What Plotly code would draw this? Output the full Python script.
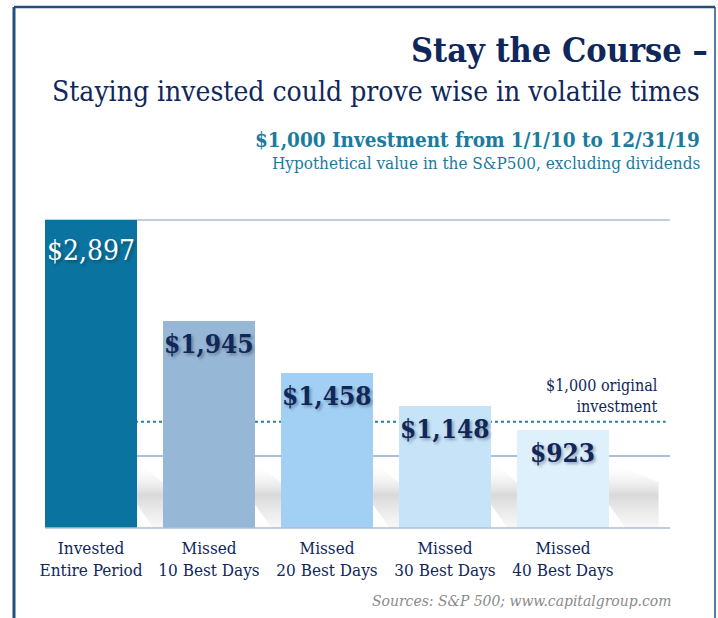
import plotly.graph_objects as go

# ---------------- data ----------------
categories = ["Invested<br>Entire Period", "Missed<br>10 Best Days", "Missed<br>20 Best Days",
              "Missed<br>30 Best Days", "Missed<br>40 Best Days"]
values = [2897, 1945, 1458, 1148, 923]
value_labels = ["$2,897", "$1,945", "$1,458", "$1,148", "$923"]
original_investment = 1000
original_label = "$1,000 original<br>investment"

title_text = "Stay the Course –"
subtitle_text = "Staying invested could prove wise in volatile times"
heading_text = "$1,000 Investment from 1/1/10 to 12/31/19"
note_text = "Hypothetical value in the S&P500, excluding dividends"
source_text = "Sources: S&P 500; www.capitalgroup.com"

# ---------------- style ----------------
bar_colors = ["#0a73a0", "#96b7d6", "#a2d0f5", "#c6e3f7", "#ddf0fc"]
label_colors = ["#ffffff", "#10275c", "#10275c", "#10275c", "#10275c"]
label_weights = ["normal", "bold", "bold", "bold", "bold"]
label_sizes = [28, 26, 26, 26, 26]
label_shift = [-12, -6, -6, -6, -6]
NAVY = "#10275c"
TEAL = "#1b7a9e"
FRAME = "#1f5083"
GRID = "#a9bfdd"
SERIF = "DejaVu Serif Condensed, DejaVu Serif, serif"

W, H = 718, 618
L, R, T, B = 45, 48, 220, 90
PW, PH = W - L - R, H - T - B


def px(x):
    return (x - L) / PW


def py(y):
    return (H - B - y) / PH


n = len(values)
xs = list(range(n))
bar_w = 0.78
x_lo, x_hi = -0.39, n - 1 + 0.907

fig = go.Figure()

# soft shadows behind the bars (decoration)
for i in xs:
    xr = i + bar_w / 2
    xe = (i + 1 - bar_w / 2) if i < n - 1 else xr + 0.42
    fig.add_trace(go.Scatter(
        x=[xr, xr, xe, xe, xr + 0.14, xr],
        y=[220, 620, 430, 0, 0, 220],
        mode="lines", line=dict(width=0), fill="toself",
        fillgradient=dict(type="vertical",
                          colorscale=[[0, "rgba(225,225,225,0.25)"], [0.5, "rgba(200,200,200,0.7)"],
                                      [1, "rgba(255,255,255,0)"]]),
        hoverinfo="skip", showlegend=False))

fig.add_trace(go.Bar(
    x=xs, y=values, width=bar_w,
    marker=dict(color=bar_colors, line=dict(width=0)),
    hoverinfo="skip", showlegend=False))

# value labels inside the top of each bar
for i, (v, t) in enumerate(zip(values, value_labels)):
    fig.add_annotation(
        x=i, y=v, xref="x", yref="y", text=t, showarrow=False,
        yanchor="top", xanchor="center", yshift=label_shift[i],
        font=dict(family=SERIF, size=label_sizes[i], color=label_colors[i], weight=label_weights[i],
                  shadow="2px 2px 3px rgba(0,0,0,0.3)"))

# top and bottom rules
fig.add_shape(type="line", xref="paper", yref="paper", layer="below", x0=0, x1=1, y0=1, y1=1,
              line=dict(color=GRID, width=1.5))
fig.add_shape(type="line", xref="paper", yref="paper", layer="above", x0=0, x1=1, y0=0, y1=0,
              line=dict(color=GRID, width=1.5))

# $1,000 reference line
fig.add_shape(type="line", xref="x", yref="y", layer="below",
              x0=x_lo, x1=n - 1 + 0.87,
              y0=original_investment, y1=original_investment,
              line=dict(color="#2a7fa8", width=2, dash="dot"))
fig.add_annotation(x=px(660), xref="paper", y=original_investment, yref="y",
                   text=original_label, showarrow=False, align="right",
                   xanchor="right", yanchor="bottom", yshift=4,
                   font=dict(family=SERIF, size=16, color=NAVY))

# frame
for x0, y0, x1, y1, wdt in [(14, 7, 14, 640, 3), (14, 7, 715, 7, 2.5), (715, 7, 715, 640, 1.5)]:
    fig.add_shape(type="line", xref="paper", yref="paper",
                  x0=px(x0), x1=px(x1), y0=py(y0), y1=py(y1),
                  line=dict(color=FRAME, width=wdt))

# texts
fig.add_annotation(x=px(409), y=py(50), xref="paper", yref="paper", text=title_text,
                   showarrow=False, xanchor="left", yanchor="middle",
                   font=dict(family=SERIF, size=34, color=NAVY, weight="bold"))
fig.add_annotation(x=px(702), y=py(91), xref="paper", yref="paper", text=subtitle_text,
                   showarrow=False, xanchor="right", yanchor="middle",
                   font=dict(family=SERIF, size=28, color=NAVY))
fig.add_annotation(x=px(702), y=py(140), xref="paper", yref="paper", text=heading_text,
                   showarrow=False, xanchor="right", yanchor="middle",
                   font=dict(family=SERIF, size=20.5, color=TEAL, weight="bold"))
fig.add_annotation(x=px(702), y=py(163), xref="paper", yref="paper", text=note_text,
                   showarrow=False, xanchor="right", yanchor="middle",
                   font=dict(family=SERIF, size=17, color=TEAL))
fig.add_annotation(x=px(673), y=py(601), xref="paper", yref="paper", text=source_text,
                   showarrow=False, xanchor="right", yanchor="middle",
                   font=dict(family=SERIF, size=15.5, color="#8a8a8a", style="italic"))

fig.update_layout(
    width=W, height=H, margin=dict(l=L, r=R, t=T, b=B),
    paper_bgcolor="white", plot_bgcolor="white",
    bargap=0,
    xaxis=dict(range=[x_lo, x_hi], tickvals=xs, ticktext=categories,
               showgrid=False, zeroline=False, showline=False, ticks="",
               ticklabelstandoff=8,
               tickfont=dict(family=SERIF, size=17, color=NAVY)),
    yaxis=dict(range=[0, max(values)], tickvals=[680], showticklabels=False,
               showgrid=True, gridcolor=GRID, gridwidth=1.5, zeroline=False, showline=False),
)

fig.write_html("out.html", config={"displayModeBar": False},
               post_script="document.body.style.margin='0';")
